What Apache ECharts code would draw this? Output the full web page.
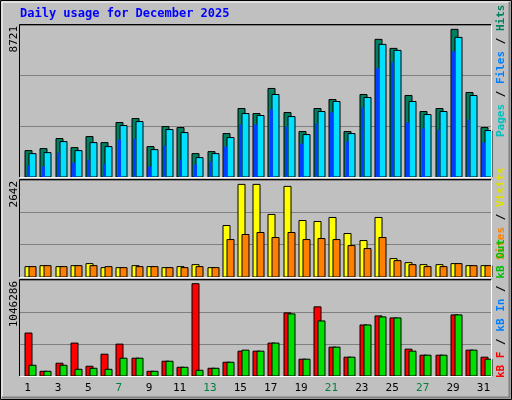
<!DOCTYPE html>
<html><head><meta charset="utf-8">
<script src="https://cdn.jsdelivr.net/npm/echarts@6/dist/echarts.min.js"></script>
<style>html,body{margin:0;padding:0;background:#c0c0c0}#c{width:512px;height:400px}</style>
</head><body><div id="c"></div>
<script>
const days = ['1','2','3','4','5','6','7','8','9','10','11','12','13','14','15','16','17','18','19','20','21','22','23','24','25','26','27','28','29','30','31'];
const weekend = ['6','7','13','14','20','21','27','28'];
const hits = [1559,1677,2269,1736,2387,2032,3216,3453,1795,2979,2920,1381,1499,2565,4045,3749,5228,3808,2683,4045,4577,2683,4873,8129,7596,4814,3867,4045,8721,4992,2920];
const files = [1381,1440,2091,1559,2032,1795,3038,3275,1618,2802,2624,1144,1381,2328,3749,3630,4873,3571,2506,3867,4459,2565,4696,7833,7478,4459,3690,3867,8247,4814,2742];
const pages = [690,612,1440,848,1026,789,2210,2269,612,1855,1026,730,908,1795,3098,3098,3985,2979,1973,3157,3808,2091,4104,6412,6767,3216,2861,2802,7418,3394,2032];
const visits = [296,324,296,324,382,267,267,324,296,267,296,353,267,1469,2642,2642,1784,2585,1612,1584,1698,1240,1040,1698,525,410,353,353,382,324,324];
const sites = [296,324,296,324,324,296,267,296,296,267,267,296,267,1068,1212,1269,1126,1269,1068,1097,1068,897,811,1126,467,353,296,296,382,324,324];
const kbF = [487040,53270,144590,372890,110345,247325,361475,201665,53270,167420,98930,1046286,87515,156005,281570,281570,372890,715340,190250,783830,327230,213080,578360,681095,658265,304400,235910,235910,692510,292985,213080];
const kbOut = [121760,53270,121760,76100,87515,76100,201665,201665,53270,167420,98930,64685,87515,156005,292985,281570,372890,703925,190250,624020,327230,213080,578360,669680,658265,281570,235910,235910,692510,292985,190250];
const maxLabels = ['8721','2642','1046286'];
const axisMax = [8977, 2767, 1088200];

const mono = 'DejaVu Sans Mono';
function barSeries(data, gi, off, w, color, z) {
  return {
    type: 'custom', xAxisIndex: gi, yAxisIndex: gi, z: z,
    data: data.map((v, i) => [i, v]),
    renderItem: function (params, api) {
      const top = api.coord([api.value(0), api.value(1)]);
      const bot = api.coord([api.value(0), 0]);
      const x = Math.round(top[0] + off);
      return { type: 'rect', shape: { x: x, y: top[1], width: w, height: bot[1] - top[1] },
        style: { fill: color, stroke: '#000', lineWidth: w < 4 ? 0 : 1 } };
    }
  };
}
const grids = [
  { left: 20, width: 471, top: 25, height: 152 },
  { left: 20, width: 471, top: 180, height: 97 },
  { left: 20, width: 471, top: 280, height: 96 }
];
const xAxes = grids.map((g, i) => ({
  type: 'category', gridIndex: i, data: days, boundaryGap: true,
  axisLine: { show: false }, axisTick: { show: false },
  axisLabel: i === 2 ? { show: true, margin: 7, fontFamily: mono, fontSize: 11,
    color: (v) => weekend.includes(v) ? '#008040' : '#000' } : { show: false }
}));
const yAxes = grids.map((g, i) => ({
  type: 'value', gridIndex: i, min: 0, max: axisMax[i], interval: axisMax[i] / 3,
  axisLabel: { show: false }, axisLine: { show: false }, axisTick: { show: false },
  splitLine: { lineStyle: { color: '#808080', width: 1 } }
}));
const graphics = [
  { type: 'rect', shape: { x: 0.5, y: 0.5, width: 511, height: 399 }, style: { fill: 'none', stroke: '#000', lineWidth: 1 } },
  { type: 'polyline', shape: { points: [[2, 397], [2, 2], [509, 2]] }, style: { fill: 'none', stroke: '#fff', lineWidth: 1 } },
  { type: 'polyline', shape: { points: [[2, 397.5], [509.5, 397.5], [509.5, 2]] }, style: { fill: 'none', stroke: '#808080', lineWidth: 2 } },
  { type: 'text', left: 20, top: 8, style: { text: 'Daily usage for December 2025', fill: '#0000ff', font: 'bold 12px "DejaVu Sans Mono"' } }
];
grids.forEach((g, i) => {
  graphics.push({ type: 'polyline', z: 10, shape: { points: [[g.left - 0.5, g.top + g.height], [g.left - 0.5, g.top - 0.5], [g.left + g.width, g.top - 0.5]] }, style: { fill: 'none', stroke: '#000', lineWidth: 1 } });
  graphics.push({ type: 'polyline', z: 10, shape: { points: [[g.left, g.top + g.height + 0.5], [g.left + g.width + 0.5, g.top + g.height + 0.5], [g.left + g.width + 0.5, g.top]] }, style: { fill: 'none', stroke: '#fff', lineWidth: 1 } });
  graphics.push({ type: 'text', x: 9, y: g.top + 1, rotation: Math.PI / 2, style: { text: maxLabels[i], fill: '#000', font: '11px "DejaVu Sans Mono"', align: 'right', verticalAlign: 'top' } });
});
function sideLabel(parts, bottomY) {
  graphics.push({ type: 'text', x: 496, y: bottomY, rotation: Math.PI / 2,
    style: { text: parts.map((p, k) => '{s' + k + '|' + p[0] + '}').join(''), font: 'bold 11px "DejaVu Sans Mono"', verticalAlign: 'top',
      rich: Object.fromEntries(parts.map((p, k) => ['s' + k, { fill: p[1], font: 'bold 11px "DejaVu Sans Mono"' }])) } });
}
sideLabel([['Pages', '#00c0c0'], [' / ', '#000'], ['Files', '#0080ff'], [' / ', '#000'], ['Hits', '#008060']], 137);
sideLabel([['Sites', '#ff8000'], [' / ', '#000'], ['Visits', '#e0e000']], 260);
sideLabel([['kB F', '#ff0000'], [' / ', '#000'], ['kB In', '#0080ff'], [' / ', '#000'], ['kB Out', '#00c000']], 378);

const chart = echarts.init(document.getElementById('c'));
chart.setOption({
  animation: false, backgroundColor: '#c0c0c0',
  grid: grids, xAxis: xAxes, yAxis: yAxes, graphic: graphics,
  series: [
    barSeries(hits, 0, -2.3, 7, '#008060', 2),
    barSeries(files, 0, 1.7, 7, '#00e0ff', 3),
    barSeries(pages, 0, -1, 3, '#0040ff', 4),
    barSeries(visits, 1, -2.3, 7, '#ffff00', 2),
    barSeries(sites, 1, 1.7, 7, '#ff8000', 3),
    barSeries(kbF, 2, -2.3, 7, '#ff0000', 2),
    barSeries(kbOut, 2, 1.7, 7, '#00e000', 3)
  ]
});
</script></body></html>
